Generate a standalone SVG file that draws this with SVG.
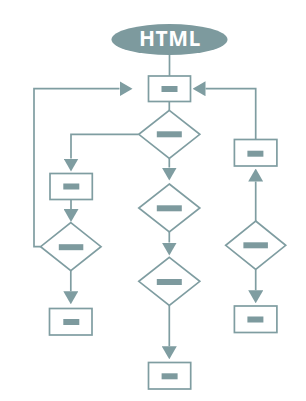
<svg xmlns="http://www.w3.org/2000/svg" width="306" height="401" viewBox="0 0 306 401">
<style>
.box{fill:#ffffff;stroke:#7f9da1;stroke-width:1.7}
.in{fill:#7d9a9e}
.c{fill:none;stroke:#7f9da1;stroke-width:1.7}
.t{font-family:"Open Sans","DejaVu Sans",sans-serif;font-weight:bold;font-size:21px;fill:#ffffff;letter-spacing:0.5px}
</style>
<defs>
<marker id="ah" markerUnits="userSpaceOnUse" markerWidth="13" markerHeight="15" viewBox="0 0 13 15" refX="0" refY="7.5" orient="auto">
<path d="M0,0 L13,7.5 L0,15 z" fill="#7f9da1"/>
</marker>
</defs>
<rect width="306" height="401" fill="#ffffff"/>
<g id="connectors">
<path class="c" d="M169.5,55 V76"/>
<path class="c" d="M169.3,101 V110.3"/>
<path class="c" d="M138.5,134.3 H71 V158.5" marker-end="url(#ah)"/>
<path class="c" d="M169.3,158.3 V167.5" marker-end="url(#ah)"/>
<path class="c" d="M71,199.5 V209" marker-end="url(#ah)"/>
<path class="c" d="M40.6,246.7 H34 V88.7 H119.5" marker-end="url(#ah)"/>
<path class="c" d="M70.8,271 V291.3" marker-end="url(#ah)"/>
<path class="c" d="M169.3,232 V242.5" marker-end="url(#ah)"/>
<path class="c" d="M169.3,305.2 V346.3" marker-end="url(#ah)"/>
<path class="c" d="M255.7,221 V181.5" marker-end="url(#ah)"/>
<path class="c" d="M255.7,269.5 V290.3" marker-end="url(#ah)"/>
<path class="c" d="M255.7,139.5 V88.7 H205.5" marker-end="url(#ah)"/>
</g>
<g id="html">
<ellipse cx="169.5" cy="39.5" rx="58" ry="15.5" fill="#7d9a9e"/>
<text class="t" x="170" y="46" text-anchor="middle">HTML</text>
</g>
<g id="box1"><rect class="box" x="148.5" y="76" width="42" height="25.5"/><rect class="in" x="161.5" y="86" width="16" height="6"/></g>
<g id="d1"><polygon class="box" points="169.3,110.3 199.8,134.3 169.3,158.3 138.8,134.3"/><rect class="in" x="156.8" y="131.3" width="25" height="6"/></g>
<g id="box2"><rect class="box" x="50" y="173.5" width="42.3" height="26"/><rect class="in" x="63.3" y="183.5" width="16" height="6"/></g>
<g id="d2"><polygon class="box" points="70.8,222.7 101,246.7 70.8,270.7 40.6,246.7"/><rect class="in" x="58.8" y="244.2" width="24.5" height="6"/></g>
<g id="box3"><rect class="box" x="49.5" y="308.5" width="42.5" height="26.5"/><rect class="in" x="63.3" y="319" width="16" height="6"/></g>
<g id="d3"><polygon class="box" points="169.3,184 199.8,208 169.3,232 138.8,208"/><rect class="in" x="156.8" y="205.3" width="25" height="6"/></g>
<g id="d4"><polygon class="box" points="169.3,257.3 199.8,281.3 169.3,305.3 138.8,281.3"/><rect class="in" x="156.8" y="279" width="25" height="6"/></g>
<g id="box4"><rect class="box" x="148.5" y="362.5" width="42.2" height="26.5"/><rect class="in" x="161.6" y="373.3" width="16" height="6"/></g>
<g id="box5"><rect class="box" x="234.4" y="139.5" width="42.5" height="26.5"/><rect class="in" x="247.4" y="150.7" width="16" height="6"/></g>
<g id="d5"><polygon class="box" points="255.7,221 285.7,245.3 255.7,269.5 225.7,245.3"/><rect class="in" x="243.4" y="242.3" width="24.5" height="6"/></g>
<g id="box6"><rect class="box" x="234.4" y="306" width="42.5" height="26.5"/><rect class="in" x="247.4" y="316.5" width="16" height="6"/></g>
</svg>
